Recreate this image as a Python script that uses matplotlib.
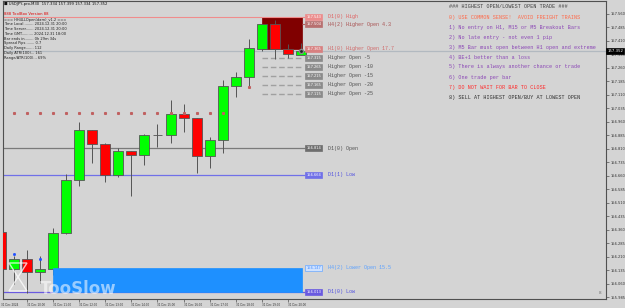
import numpy as np
import matplotlib
matplotlib.use("Agg")
import matplotlib.pyplot as plt
import matplotlib.transforms as mtransforms
from matplotlib.patches import Rectangle, Polygon

# M30 candles, USDJPY 31 Dec 2024 (index 0 = 09:00)
opens = [156.347, 156.141, 156.197, 156.124, 156.141, 156.341, 156.636, 156.914,
         156.837, 156.664, 156.798, 156.775, 156.887, 156.884, 157.004, 156.981,
         156.770, 156.859, 157.159, 157.209, 157.366, 157.504, 157.366, 157.334]
highs = [156.362, 156.213, 156.247, 156.213, 156.369, 156.670, 156.959, 156.916,
         156.840, 156.814, 156.800, 156.890, 156.948, 157.081, 157.059, 156.983,
         156.876, 157.193, 157.237, 157.421, 157.506, 157.527, 157.393, 157.399]
lows = [156.128, 156.057, 156.010, 156.063, 156.110, 156.335, 156.603, 156.731,
        156.625, 156.653, 156.547, 156.720, 156.820, 156.842, 156.903, 156.675,
        156.703, 156.786, 157.098, 157.159, 157.354, 157.310, 157.315, 157.334]
closes = [156.141, 156.197, 156.124, 156.141, 156.341, 156.636, 156.914, 156.837,
          156.664, 156.798, 156.775, 156.887, 156.889, 157.004, 156.981, 156.770,
          156.859, 157.159, 157.209, 157.371, 157.504, 157.366, 157.337, 157.352]

time_labels = ["31 Dec 2024", "31 Dec 10:00", "31 Dec 11:00", "31 Dec 12:00",
               "31 Dec 13:00", "31 Dec 14:00", "31 Dec 15:00", "31 Dec 16:00",
               "31 Dec 17:00", "31 Dec 18:00", "31 Dec 19:00", "31 Dec 20:00"]
time_label_bars = [0, 2, 4, 6, 8, 10, 12, 14, 16, 18, 20, 22]

price_ticks = [157.560, 157.485, 157.410, 157.335, 157.260, 157.185, 157.110,
               157.035, 156.960, 156.885, 156.810, 156.735, 156.660, 156.585,
               156.510, 156.435, 156.360, 156.285, 156.210, 156.135, 156.060,
               155.985]

bid = 157.352
d1_high = 157.543
h4_higher_open = 157.504
h1_higher_open = 157.365
higher_open_levels = [157.315, 157.265, 157.215, 157.165, 157.115]
higher_open_names = ["Higher Open -5", "Higher Open -10", "Higher Open -15",
                     "Higher Open -20", "Higher Open -25"]
d1_open = 156.814
d1_prev_low = 156.664
h4_lower_open = 156.147
d1_low = 156.013

dot_bars = list(range(1, 18))
dot_level = 157.009

info_lines = ["=== HH4LLOpen(dam)_v1.2 ===",
              "Time Local......... 2024.12.31 20:00",
              "Time Server....... 2024.12.31 20:00",
              "Time GMT.......... 2024.12.31 18:00",
              "Bar ends in........ 0h 29m 34s",
              "Spread Pips........ 0.7",
              "Daily Range....... 112",
              "Daily ATR(100)... 161",
              "Range/ATR(100)... 69%"]

rules = ["### HIGHEST OPEN/LOWEST OPEN TRADE ###",
         "0) USE COMMON SENSE!  AVOID FREIGHT TRAINS",
         "1) No entry on H1, M15 or M5 Breakout Bars",
         "2) No late entry - not even 1 pip",
         "3) M5 Bar must open between H1 open and extreme",
         "4) BE+1 better than a loss",
         "5) There is always another chance or trade",
         "6) One trade per bar",
         "7) DO NOT WAIT FOR BAR TO CLOSE",
         "8) SELL AT HIGHEST OPEN/BUY AT LOWEST OPEN"]
rule_colors = ["#404040", "#ff6a4a", "#8a45b5", "#8a45b5", "#8a45b5", "#8a45b5",
               "#8a45b5", "#8a45b5", "#ff2a2a", "#303030"]

BG = "#d4d4d4"
W, H = 625, 308

fig = plt.figure(figsize=(6.25, 3.08), dpi=100, facecolor=BG)
ax = fig.add_axes([3 / W, 9 / H, 603 / W, 298 / H])
ax.set_facecolor(BG)

ax.set_xlim(0.157, 46.38)
ax.set_ylim(155.974, 157.632)

x = np.arange(len(opens))
o = np.array(opens)
c = np.array(closes)
up = c >= o
body_colors = np.where(up, "#00ff00", "#ff0000")

# box behind candles
ax.add_patch(Rectangle((20.0, h1_higher_open), 3.08, d1_high - h1_higher_open,
                       facecolor="#800000", edgecolor="#800000", lw=0.5, zorder=1))

# horizontal levels
ax.axhline(bid, color="#b2b9c0", lw=0.9, zorder=1)
ax.hlines(d1_high, 0, 23.3, color="#f08c8c", lw=0.8, zorder=1)
ax.hlines(h4_higher_open, 23.08, 23.3, color="#b06060", lw=0.8, zorder=1)
ax.hlines(d1_open, 0, 23.3, color="#7a7a7a", lw=0.9, zorder=1)
ax.hlines(d1_prev_low, 0, 23.3, color="#7070e8", lw=0.9, zorder=1)
ax.hlines(d1_low, 0, 23.3, color="#6a5ae0", lw=0.9, zorder=1)
ax.hlines(higher_open_levels, 20.0, 23.1, color="#a0a0a0", lw=1.0,
          linestyles=(0, (4, 2)), zorder=1)

# candles
ax.vlines(x, lows, highs, color="#555555", lw=0.7, zorder=2)
heights = np.maximum(np.abs(c - o), 0.0015)
ax.bar(x, heights, bottom=np.minimum(o, c), width=0.76, color=body_colors,
       edgecolor="#555555", linewidth=0.6, zorder=3)

# blue lower-open box in front
ax.add_patch(Rectangle((3.99, d1_low), 19.09, h4_lower_open - d1_low,
                       facecolor="#1e90ff", edgecolor="#1e90ff", lw=0.5, zorder=4))

# markers
ax.plot(dot_bars, [dot_level] * len(dot_bars), ls="none", marker="s", ms=1.2,
        color="#c06060", zorder=3)
ax.plot([19], [157.154], ls="none", marker="s", ms=1.2, color="#c06060", zorder=5)
ax.plot([1, 3], [156.224, 156.197], ls="none", marker="s", ms=1.0, color="#2050ff", zorder=5)
ax.plot([23], [157.354], ls="none", marker="o", ms=3, color="#222222",
        markeredgecolor="#888888", zorder=5)

# level labels
def level_label(y, box_fc, name, name_color, txt_color="white", box_ec=None):
    ax.text(23.4, y, f"{y:.3f}", fontsize=2.6, color=txt_color, va="center",
            ha="left", zorder=6,
            bbox=dict(boxstyle="square,pad=0.3", fc=box_fc,
                      ec=box_ec or box_fc, lw=0.5))
    ax.text(25.05, y, name, fontsize=3.6, color=name_color, va="center",
            ha="left", family="Liberation Mono", zorder=6)

level_label(d1_high, "#ec8c8c", "D1(0) High", "#e06060")
level_label(h4_higher_open, "#b87070", "H4(2) Higher Open 4.3", "#a85050")
level_label(h1_higher_open, "#d88080", "H1(0) Higher Open 17.7", "#d06868")
for lv, nm in zip(higher_open_levels, higher_open_names):
    level_label(lv, "#8a8a8a", nm, "#505050")
level_label(d1_open, "#6e6e6e", "D1(0) Open", "#505050")
level_label(d1_prev_low, "#7070e8", "D1(1) Low", "#5050e0")
level_label(h4_lower_open, "#cfe2ff", "H4(2) Lower Open 15.5", "#5aa0ff",
            txt_color="#4a90ff", box_ec="#6aa8ff")
level_label(d1_low, "#6a5ae0", "D1(0) Low", "#5050e0")

# axes styling
for s in ax.spines.values():
    s.set_color("#505050")
    s.set_linewidth(0.8)
ax.yaxis.tick_right()
ax.set_yticks(price_ticks)
ax.set_yticklabels([f"{p:.3f}" for p in price_ticks], fontsize=2.6, color="#303030")
ax.tick_params(axis="y", length=2, width=0.5, pad=1, color="#505050")
ax.set_xticks([b for b in time_label_bars if b > 0.2])
ax.set_xticklabels([])
ax.tick_params(axis="x", length=2, width=0.5, color="#505050")
tb = mtransforms.blended_transform_factory(ax.transData, ax.transAxes)
for b, lab in zip(time_label_bars, time_labels):
    ax.text(b, -0.012, lab, transform=tb, fontsize=2.0, color="#303030",
            ha="left", va="top", clip_on=False)

# current price tag
ty = mtransforms.blended_transform_factory(ax.transAxes, ax.transData)
ax.text(1.002, bid, f"{bid:.3f}", transform=ty, fontsize=2.8, color="white",
        ha="left", va="center", clip_on=False, zorder=7,
        bbox=dict(boxstyle="square,pad=0.3", fc="black", ec="black", lw=0.5))

# watermark: hourglass outline + text
hg = [(9, 263), (27, 263), (18, 277), (27, 291), (9, 291), (18, 277)]
fig.patches.append(Polygon([(px / W, 1 - py / H) for px, py in hg], closed=True,
                           fill=False, edgecolor="white", lw=1.0, alpha=0.75,
                           transform=fig.transFigure, zorder=10))
fig.text(40 / W, 1 - 294 / H, "TooSlow", fontsize=12, fontweight="bold",
         color="white", alpha=0.55, ha="left", va="baseline", zorder=10)

# info panel
fig.text(4 / W, 1 - 4 / H, "\u25a0 USDJPY,pro,M30  157.334 157.399 157.334 157.352",
         fontsize=2.7, color="#101010", va="center", ha="left")
fig.text(4 / W, 1 - 14 / H, "888 ToolBox Version 88", fontsize=2.7,
         color="#e00000", va="center", ha="left")
info_y = [20, 24, 29, 34, 39, 43, 48, 53, 58]
for yy, line in zip(info_y, info_lines):
    fig.text(4 / W, 1 - yy / H, line, fontsize=2.6, color="#202020",
             va="center", ha="left")

for i, (line, col) in enumerate(zip(rules, rule_colors)):
    fig.text(449 / W, 1 - (7 + 10 * i) / H, line, fontsize=3.7, color=col,
             family="Liberation Mono", va="center", ha="left")

fig.text(600 / W, 1 - 293 / H, "8", fontsize=3, color="#707070",
         ha="center", va="center")

fig.savefig("out.png", dpi=100, facecolor=BG)
